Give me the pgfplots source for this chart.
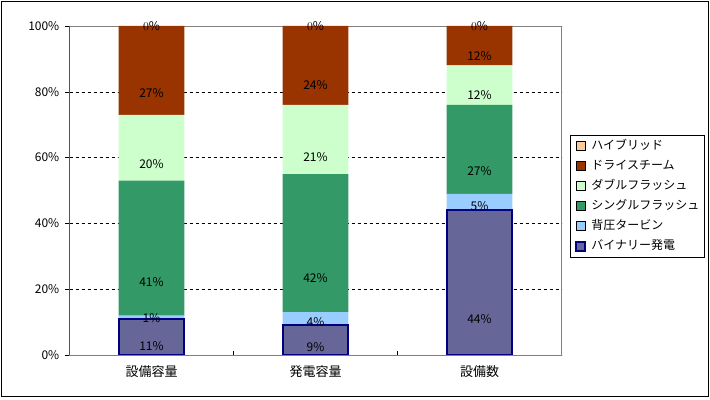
\documentclass[border=0pt]{standalone}
\usepackage{fontspec}
\setmainfont{Noto Sans CJK JP}
\usepackage{pgfplots}
\pgfplotsset{compat=1.18}

\definecolor{binary}{HTML}{666699}
\definecolor{binaryedge}{HTML}{000080}
\definecolor{backp}{HTML}{99CCFF}
\definecolor{single}{HTML}{339966}
\definecolor{double}{HTML}{CCFFCC}
\definecolor{dry}{HTML}{993300}
\definecolor{hybrid}{HTML}{FFCC99}

\begin{document}
\begin{tikzpicture}
\useasboundingbox (0bp,0bp) rectangle (710bp,400bp);
\draw[line width=1.2bp] (1.5bp,3.2bp) rectangle (708.8bp,398.8bp);
\begin{axis}[
  at={(69.5bp,45bp)}, anchor=south west,
  scale only axis, width=492bp, height=329bp,
  ybar stacked, bar width=0.4,
  xmin=-0.5, xmax=2.5, ymin=0, ymax=100,
  axis line style={draw=gray},
  tick pos=left, tick align=inside,
  major tick length=4bp,
  xtick={0.5,1.5}, xticklabels={},
  extra x ticks={0,1,2},
  extra x tick labels={設備容量,発電容量,設備数},
  extra x tick style={major tick length=0pt},
  xticklabel style={font=\fontsize{13bp}{15bp}\selectfont, anchor=north, inner sep=0pt, yshift=-10bp},
  ytick={0,20,...,100},
  yticklabel={\pgfmathprintnumber{\tick}\%},
  ytick style={xshift=-4bp},
  yticklabel style={font=\fontsize{12bp}{14bp}\selectfont, anchor=east, inner sep=0pt, xshift=-10bp},
  /pgf/number format/assume math mode=true,
  tick style={black},
  ymajorgrids, grid style={black, dash pattern=on 3bp off 3bp},
  nodes near coords={\pgfmathprintnumber[fixed,precision=0]{\pgfplotspointmeta}\%},
  every node near coord/.append style={
    font=\fontsize{12bp}{14bp}\selectfont, black, anchor=center,
    /pgfplots/halfseg/.code={%
      \pgfkeys{/pgf/fpu=true,/pgf/fpu/output format=fixed}%
      \pgfmathsetmacro\halfseg{-0.8225*\pgfplotspointmeta}%
      \pgfkeys{/pgf/fpu=false}%
    },
    /pgfplots/halfseg,
    yshift=\halfseg bp,
  },
  legend image code/.code={\draw[#1] (0bp,-4.5bp) rectangle (9bp,4.5bp);},
  reverse legend,
  legend cell align=left,
  legend style={at={(axis description cs:1.0173,0.6687)}, anchor=north west,
    draw=black, line width=0.8bp, font=\fontsize{12bp}{14bp}\selectfont,
    inner xsep=5bp, inner ysep=4.5bp, row sep=7bp, column sep=5bp,
    nodes={inner sep=0pt, text height=10bp, text depth=3bp}},
]
\draw[black, line width=0.8bp] (rel axis cs:0,1) -- (rel axis cs:0,0) -- (rel axis cs:1,0);
\addplot[fill=binary, draw=binaryedge, line width=2bp] coordinates {(0,11) (1,9) (2,44)};
\addplot[fill=backp, draw=none] coordinates {(0,1) (1,4) (2,5)};
\addplot[fill=single, draw=none] coordinates {(0,41) (1,42) (2,27)};
\addplot[fill=double, draw=none] coordinates {(0,20) (1,21) (2,12)};
\addplot[fill=dry, draw=none] coordinates {(0,27) (1,24) (2,12)};
\addplot[fill=hybrid, draw=none, nodes near coords={}] coordinates {(0,0) (1,0) (2,0)};
\legend{バイナリー発電,背圧タービン,シングルフラッシュ,ダブルフラッシュ,ドライスチーム,ハイブリッド}
\end{axis}
% ハイブリッド (0%) labels at the top of each stack
\begin{axis}[
  at={(69.5bp,45bp)}, anchor=south west,
  scale only axis, width=492bp, height=329bp,
  xmin=-0.5, xmax=2.5, ymin=0, ymax=100,
  hide axis, clip=false,
  point meta=explicit,
  nodes near coords={\pgfmathprintnumber[fixed,precision=0]{\pgfplotspointmeta}\%},
  every node near coord/.append style={font=\fontsize{12bp}{14bp}\selectfont, black, anchor=center},
]
\addplot[only marks, mark=none] coordinates {(0,100) [0] (1,100) [0] (2,100) [0]};
\end{axis}
\end{tikzpicture}
\end{document}
